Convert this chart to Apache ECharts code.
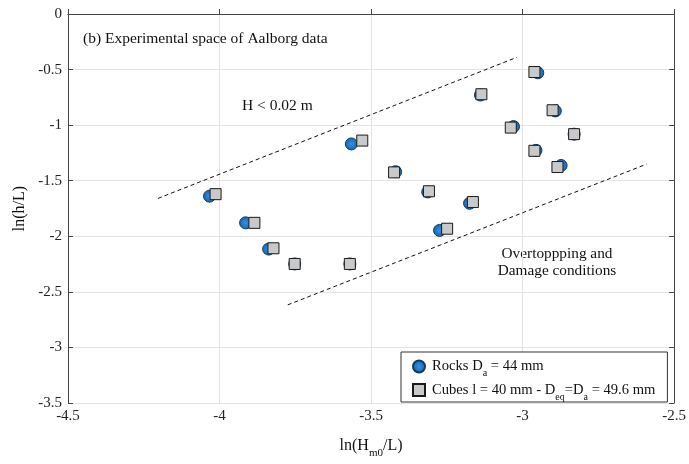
<!DOCTYPE html>
<html>
<head>
<meta charset="utf-8">
<script src="https://cdn.jsdelivr.net/npm/echarts@6/dist/echarts.min.js"></script>
<style>
  html, body { margin: 0; padding: 0; background: #fff; }
  #chart { width: 689px; height: 464px; }
</style>
</head>
<body>
<div id="chart"></div>
<script>
// rocks, D_a = 44 mm
const rocksX = [-2.950, -3.139, -2.892, -3.030, -2.830, -2.956, -2.873, -3.419, -3.313, -3.175, -3.565, -4.033, -3.914, -3.838, -3.752, -3.570, -3.274];
const rocksY = [-0.529, -0.729, -0.872, -1.013, -1.081, -1.227, -1.363, -1.419, -1.601, -1.703, -1.169, -1.639, -1.879, -2.115, -2.249, -2.249, -1.947];
// cubes
const cubesX = [-2.961, -3.136, -2.901, -3.039, -2.830, -2.961, -2.885, -3.424, -3.309, -3.164, -3.529, -4.013, -3.885, -3.822, -3.752, -3.570, -3.249];
const cubesY = [-0.522, -0.722, -0.866, -1.022, -1.081, -1.231, -1.377, -1.425, -1.595, -1.692, -1.139, -1.621, -1.879, -2.108, -2.249, -2.249, -1.932];
// dashed boundaries
const upperX = [-4.203, -3.019];
const upperY = [-1.659, -0.390];
const lowerX = [-3.775, -2.591];
const lowerY = [-2.617, -1.351];

const xTicks = [-4.5, -4, -3.5, -3, -2.5];
const yTicks = [-3.5, -3, -2.5, -2, -1.5, -1, -0.5, 0];

const serif = '"Liberation Serif", "DejaVu Serif", serif';
const zip = (xs, ys) => xs.map((x, i) => [x, ys[i]]);

const chart = echarts.init(document.getElementById('chart'));

const subRich = {
    n: { fontFamily: serif, fontSize: 14.6, color: '#111' },
    s: { fontFamily: serif, fontSize: 10, color: '#111', padding: [14, 0, 0, 0] }
};
const nameRich = {
    n: { fontFamily: serif, fontSize: 16, color: '#111' },
    s: { fontFamily: serif, fontSize: 11, color: '#111', padding: [15, 0, 0, 0] }
};

const legendText = {
    rocks: '{n|Rocks D}{s|a}{n| = 44 mm}',
    cubes: '{n|Cubes l = 40 mm - D}{s|eq}{n|=D}{s|a}{n| = 49.6 mm}'
};

const axisCommon = {
    type: 'value',
    interval: 0.5,
    axisLine: { show: true, lineStyle: { color: '#444', width: 1 } },
    axisTick: { show: true, inside: true, length: 5, lineStyle: { color: '#444' } },
    axisLabel: { fontFamily: serif, fontSize: 15, color: '#222' }
};

const option = {
    animation: false,
    backgroundColor: '#fff',
    grid: { left: 68, right: 14, top: 14, bottom: 51 },
    xAxis: [
        Object.assign({}, axisCommon, {
            min: -4.5, max: -2.5,
            position: 'bottom',
            name: '{n|ln(H}{s|m0}{n|/L)}',
            nameLocation: 'middle',
            nameGap: 30,
            nameTextStyle: { rich: nameRich },
            axisLabel: Object.assign({}, axisCommon.axisLabel, {
                margin: 6,
                formatter: v => xTicks.includes(v) ? String(v) : ''
            }),
            splitLine: { show: true, lineStyle: { color: '#e3e3e3' } }
        }),
        Object.assign({}, axisCommon, {
            min: -4.5, max: -2.5,
            position: 'top',
            axisTick: { show: false },
            axisLabel: { show: false },
            splitLine: { show: false }
        })
    ],
    yAxis: [
        Object.assign({}, axisCommon, {
            min: -3.5, max: 0,
            position: 'left',
            name: 'ln(h/L)',
            nameLocation: 'middle',
            nameGap: 33,
            nameTextStyle: { fontFamily: serif, fontSize: 16, color: '#111' },
            axisLabel: Object.assign({}, axisCommon.axisLabel, {
                margin: 6,
                formatter: v => yTicks.includes(v) ? String(v) : ''
            }),
            splitLine: { show: true, lineStyle: { color: '#e3e3e3' } }
        }),
        Object.assign({}, axisCommon, {
            min: -3.5, max: 0,
            position: 'right',
            axisLabel: { show: false },
            splitLine: { show: false }
        })
    ],
    legend: {
        orient: 'vertical',
        left: 401,
        top: 352,
        padding: [7, 12, 0, 11],
        itemGap: 4,
        itemWidth: 12,
        itemHeight: 12,
        backgroundColor: '#fff',
        borderColor: '#333',
        borderWidth: 1,
        borderRadius: 0,
        data: ['rocks', 'cubes'],
        formatter: name => legendText[name],
        textStyle: { rich: subRich, padding: [0, 0, 0, 2] }
    },
    title: {
        text: '(b) Experimental space of Aalborg data',
        left: 83,
        top: 31,
        padding: 0,
        textStyle: { fontFamily: serif, fontSize: 15.5, fontWeight: 'normal', color: '#111' }
    },
    graphic: [
        {
            type: 'text', x: 242, y: 98,
            style: { text: 'H < 0.02 m', font: '15.5px ' + serif, fill: '#111', verticalAlign: 'top' }
        },
        {
            type: 'text', x: 557, y: 246,
            style: {
                text: 'Overtoppping and\nDamage conditions', font: '15.3px ' + serif, fill: '#111',
                align: 'center', verticalAlign: 'top', lineHeight: 16.5
            }
        }
    ],
    series: [
        {
            name: 'upper',
            type: 'line',
            data: zip(upperX, upperY),
            symbol: 'none',
            lineStyle: { color: '#111', width: 1, type: [4, 3] },
            silent: true
        },
        {
            name: 'lower',
            type: 'line',
            data: zip(lowerX, lowerY),
            symbol: 'none',
            lineStyle: { color: '#111', width: 1, type: [4, 3] },
            silent: true
        },
        {
            name: 'rocks',
            type: 'scatter',
            data: zip(rocksX, rocksY),
            symbol: 'circle',
            symbolSize: 12,
            itemStyle: {
                color: {
                    type: 'radial', x: 0.5, y: 0.5, r: 0.5,
                    colorStops: [{ offset: 0, color: '#3b8fe0' }, { offset: 1, color: '#1565b0' }]
                },
                borderColor: '#123a60',
                borderWidth: 1,
                opacity: 1
            }
        },
        {
            name: 'cubes',
            type: 'scatter',
            data: zip(cubesX, cubesY),
            symbol: 'rect',
            symbolSize: 11,
            itemStyle: { color: '#c9c9c9', borderColor: '#1a1a1a', borderWidth: 1, opacity: 1 }
        }
    ]
};

chart.setOption(option);
</script>
</body>
</html>
